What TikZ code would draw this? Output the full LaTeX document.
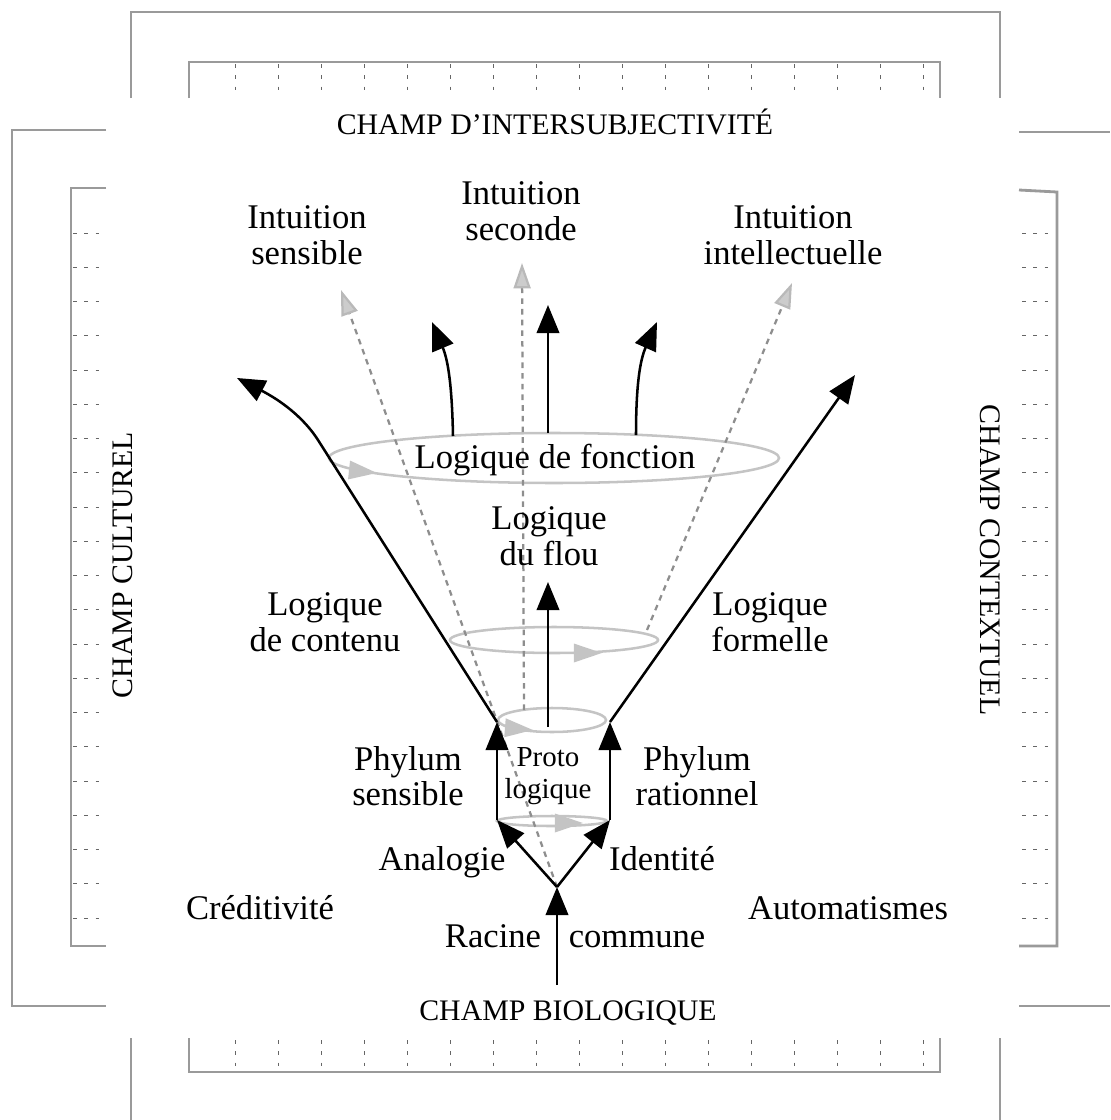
\documentclass[tikz,border=0pt]{standalone}
\usepackage{fontspec}
\setmainfont{Liberation Serif}
\usepackage{tikz}
\usetikzlibrary{arrows.meta}
\definecolor{framec}{HTML}{9A9A9A}
\definecolor{ringc}{HTML}{C4C4C4}
\definecolor{dashc}{HTML}{8E8E8E}
\tikzset{
  ar/.style={-{Triangle[length=10pt,width=8pt]},line width=0.9pt},
  dar/.style={-{Triangle[length=9pt,width=6pt,color=gray!55,fill=gray!40]},dashc,line width=0.8pt,dash pattern=on 2pt off 1.8pt},
  ring/.style={ringc,line width=0.9pt},
  ringtip/.style={-{Triangle[length=10pt,width=6.5pt]},ringc,line width=0.9pt},
  frm/.style={framec,line width=1pt},
  tk/.style={gray!80!black,line width=0.35pt,dash pattern=on 1.4pt off 2.6pt},
  lbl/.style={align=center,inner sep=1pt,font=\fontsize{12.3}{12.6}\selectfont},
  word/.style={lbl,anchor=base},
  small/.style={align=center,inner sep=1pt,font=\fontsize{10.3}{11.6}\selectfont},
  champ/.style={inner sep=1pt,font=\fontsize{10.6}{12}\selectfont}
}
\begin{document}
\begin{tikzpicture}[x=0.0125cm,y=-0.0125cm]
\useasboundingbox (0,0) rectangle (1110,1120);
% frames
\draw[frm] (131,98) -- (131,12) -- (1000,12) -- (1000,98);
\draw[frm] (189,98) -- (189,62) -- (940,62) -- (940,98);
\foreach \i in {0,...,16}{\draw[tk] (235+43*\i,64) -- (235+43*\i,97);}
\draw[frm] (131,1038) -- (131,1120);
\draw[frm] (1000,1038) -- (1000,1120);
\draw[frm] (189,1038) -- (189,1072) -- (940,1072) -- (940,1038);
\foreach \i in {0,...,16}{\draw[tk] (235+43*\i,1040) -- (235+43*\i,1070);}
\draw[frm] (106,130) -- (12,130) -- (12,1006) -- (106,1006);
\draw[frm] (106,188) -- (71,188) -- (71,946) -- (106,946);
\foreach \j in {0,...,20}{\draw[tk] (73,233+34.25*\j) -- (104,233+34.25*\j);}
\draw[frm] (1019,132) -- (1110,132);
\draw[frm] (1019,1006) -- (1110,1006);
\draw[frm] (1019,190) -- (1057,192) -- (1057,946) -- (1019,946);
\foreach \j in {0,...,20}{\draw[tk] (1022,233+34.25*\j) -- (1054,233+34.25*\j);}
\node[champ] (chint) at (555,122) {CHAMP D’INTERSUBJECTIVITÉ};
\node[champ] (chbio) at (568,1013) {CHAMP BIOLOGIQUE};
\node[champ,rotate=90] (chcult) at (123,565) {CHAMP CULTUREL};
\node[champ,rotate=-90] (chcont) at (990,560) {CHAMP CONTEXTUEL};
% points
\coordinate (root) at (557,985);
\coordinate (fork) at (557,887);
\coordinate (ls) at (497,820);
\coordinate (rs) at (610,820);
\coordinate (lt) at (497,722);
\coordinate (rt) at (610,722);
\coordinate (lbend) at (318,440);
\coordinate (lend) at (237,378);
\coordinate (rend) at (855,375);
\coordinate (pc) at (548,727);
\coordinate (pend) at (548,582);
\coordinate (fl) at (453,436);
\coordinate (flend) at (432,322);
\coordinate (fc) at (548,433);
\coordinate (fcend) at (548,305);
\coordinate (fr) at (636,435);
\coordinate (frend) at (657,322);
\coordinate (dlend) at (341,290);
\coordinate (dc) at (524,710);
\coordinate (dcend) at (522,263);
\coordinate (dr) at (647,630);
\coordinate (drend) at (792,283);
% rings
\draw[ring] (554,458) ellipse (225 and 25);
\draw[ring] (554,640) ellipse (104 and 13);
\draw[ring] (552,720) ellipse (54 and 12);
\draw[ring] (552,821) ellipse (55 and 5);
\draw[ringtip] (349,470) -- (377,473);
\draw[ringtip] (570,653) -- (602,653);
\draw[ringtip] (508,728) -- (533,730);
\draw[ringtip] (558,823) -- (583,823);
% dashed ways
\draw[dar] (fork) -- (dlend);
\draw[dar] (dc) -- (dcend);
\draw[dar] (dr) -- (drend);
% arrows
\draw[ar] (root) -- (fork);
\draw[ar] (fork) -- (ls);
\draw[ar] (fork) -- (rs);
\draw[ar] (ls) -- (lt);
\draw[ar] (rs) -- (rt);
\draw[ar] (lt) -- (lbend) .. controls (300,412) and (272,396) .. (lend);
\draw[ar] (rt) -- (rend);
\draw[ar] (pc) -- (pend);
\draw[ar] (fl) .. controls (452,385) and (448,360) .. (flend);
\draw[ar] (fc) -- (fcend);
\draw[ar] (fr) .. controls (636,385) and (640,360) .. (frend);
% labels
\node[lbl] (ints) at (307,235) {Intuition\\sensible};
\node[lbl] (intsec) at (521,211) {Intuition\\seconde};
\node[lbl] (intint) at (793,235) {Intuition\\intellectuelle};
\node[lbl] (lfonc) at (555,460) {Logique de fonction};
\node[lbl] (lflou) at (549,536) {Logique\\du flou};
\node[lbl] (lcont) at (325,622) {Logique\\de contenu};
\node[lbl] (lform) at (770,622) {Logique\\formelle};
\node[lbl] (phys) at (408,776) {Phylum\\sensible};
\node[small] (proto) at (548,776) {Proto\\logique};
\node[lbl] (phyr) at (697,776) {Phylum\\rationnel};
\node[word] (analog) at (442,870) {Analogie};
\node[word] (ident) at (662,870) {Identité};
\node[word] (cred) at (260,919) {Créditivité};
\node[word] (autom) at (848,919) {Automatismes};
\node[word] (racine) at (493,947) {Racine};
\node[word] (commune) at (637,947) {commune};
\end{tikzpicture}
\end{document}
